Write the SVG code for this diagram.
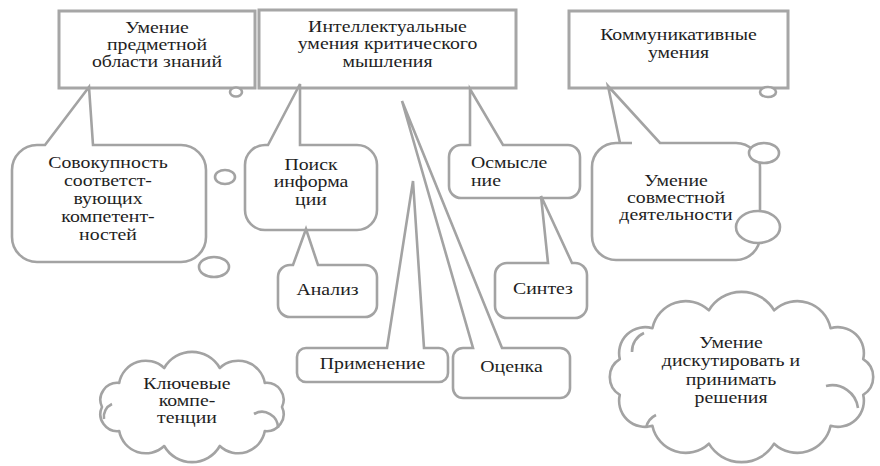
<svg xmlns="http://www.w3.org/2000/svg" width="880" height="466" viewBox="0 0 880 466">
  <style>
    .box { fill: #ffffff; stroke: #a6a6a6; stroke-width: 3; }
    .call { fill: #ffffff; stroke: #a3a3a3; stroke-width: 2.6; stroke-linejoin: miter; }
    .dot { fill: #ffffff; stroke: #a3a3a3; stroke-width: 2.6; }
    .cloud { fill: #ffffff; stroke: #a3a3a3; stroke-width: 2.6; stroke-linejoin: round; }
    .inner { fill: none; stroke: #a3a3a3; stroke-width: 2.6; }
    .t { font-family: "Liberation Serif", "Times New Roman", serif; font-size: 16.5px; fill: #1e1e1e; text-anchor: middle; }
    .tl { text-anchor: start; }
  </style>
  <rect width="880" height="466" fill="#ffffff"/>

  <!-- top-level skill groups -->
  <g id="subject-skills">
    <rect class="box" x="59" y="11" width="196" height="77"/>
    <ellipse class="dot" cx="236" cy="92" rx="6" ry="4.5"/>
    <text class="t" transform="translate(157,33) scale(1.2,1)"><tspan x="0" y="0">Умение</tspan><tspan x="0" y="17">предметной</tspan><tspan x="0" y="34">области знаний</tspan></text>
  </g>

  <g id="critical-thinking">
    <rect class="box" x="259" y="10" width="257" height="78"/>
    <text class="t" transform="translate(387.5,32) scale(1.2,1)"><tspan x="0" y="0">Интеллектуальные</tspan><tspan x="0" y="17.5">умения критического</tspan><tspan x="0" y="35">мышления</tspan></text>
  </g>

  <g id="communication">
    <rect class="box" x="569" y="11" width="219" height="77"/>
    <ellipse class="dot" cx="768" cy="92" rx="8" ry="5"/>
    <text class="t" transform="translate(678.5,40) scale(1.2,1)"><tspan x="0" y="0">Коммуникативные</tspan><tspan x="0" y="18">умения</tspan></text>
  </g>

  <!-- callouts with their tails (tails are the connectors) -->
  <g id="connectors">
    <g id="competences">
      <path class="call" d="M37,145 L45,145 L89,87 L93,145 L181,145 A25 25 0 0 1 206,170 L206,237 A25 25 0 0 1 181,262 L37,262 A25 25 0 0 1 12,237 L12,170 A25 25 0 0 1 37,145 Z"/>
      <ellipse class="dot" cx="225" cy="177" rx="10" ry="7"/>
      <ellipse class="dot" cx="214" cy="267" rx="15" ry="10"/>
      <text class="t" transform="translate(108,168) scale(1.2,1)"><tspan x="0" y="0">Совокупность</tspan><tspan x="0" y="18">соответст-</tspan><tspan x="0" y="36">вующих</tspan><tspan x="0" y="54">компетент-</tspan><tspan x="0" y="72">ностей</tspan></text>
    </g>

    <g id="search">
      <path class="call" d="M265,145 L268,145 L300,84 L300,145 L357,145 A20 20 0 0 1 377,165 L377,210 A20 20 0 0 1 357,230 L265,230 A20 20 0 0 1 245,210 L245,165 A20 20 0 0 1 265,145 Z"/>
      <text class="t" transform="translate(311,170) scale(1.2,1)"><tspan x="0" y="0">Поиск</tspan><tspan x="0" y="17.5">информа</tspan><tspan x="0" y="35">ции</tspan></text>
    </g>

    <g id="analysis">
      <path class="call" d="M290,265 L293,265 L306,229 L318,265 L365,265 A12 12 0 0 1 377,277 L377,305 A12 12 0 0 1 365,317 L290,317 A12 12 0 0 1 278,305 L278,277 A12 12 0 0 1 290,265 Z"/>
      <text class="t" transform="translate(327.5,295) scale(1.2,1)">Анализ</text>
    </g>

    <g id="comprehension">
      <path class="call" d="M461,145 L470,145 L470,89 L503,145 L568,145 A12 12 0 0 1 580,157 L580,186 A12 12 0 0 1 568,198 L461,198 A12 12 0 0 1 449,186 L449,157 A12 12 0 0 1 461,145 Z"/>
      <text class="t tl" transform="translate(471,168) scale(1.2,1)"><tspan x="0" y="0">Осмысле</tspan><tspan x="0" y="18">ние</tspan></text>
    </g>

    <g id="synthesis">
      <path class="call" d="M507,263 L548,263 L541,196 L572,263 L575,263 A12 12 0 0 1 587,275 L587,306 A12 12 0 0 1 575,318 L507,318 A12 12 0 0 1 495,306 L495,275 A12 12 0 0 1 507,263 Z"/>
      <text class="t" transform="translate(543,294) scale(1.2,1)">Синтез</text>
    </g>

    <g id="teamwork">
      <path class="call" d="M616,143 L632,143 L620,143 L608,86 L660,143 L736,143 A24 24 0 0 1 760,167 L760,236 A24 24 0 0 1 736,260 L616,260 A24 24 0 0 1 592,236 L592,167 A24 24 0 0 1 616,143 Z"/>
      <ellipse class="dot" cx="764" cy="153" rx="15" ry="10"/>
      <ellipse class="dot" cx="758" cy="227" rx="22" ry="16"/>
      <text class="t" transform="translate(676,186) scale(1.2,1)"><tspan x="0" y="0">Умение</tspan><tspan x="0" y="17">совместной</tspan><tspan x="0" y="34">деятельности</tspan></text>
    </g>

    <g id="application">
      <path class="call" d="M306,348 L387,348 L413,181 L424,348 L439,348 A9 9 0 0 1 448,357 L448,373 A9 9 0 0 1 439,382 L306,382 A9 9 0 0 1 297,373 L297,357 A9 9 0 0 1 306,348 Z"/>
      <text class="t" transform="translate(372.5,369) scale(1.2,1)">Применение</text>
    </g>

    <g id="evaluation">
      <path class="call" d="M463,348 L473,348 L402,101 L502,348 L560,348 A10 10 0 0 1 570,358 L570,388 A10 10 0 0 1 560,398 L463,398 A10 10 0 0 1 453,388 L453,358 A10 10 0 0 1 463,348 Z"/>
      <text class="t" transform="translate(511.5,372) scale(1.2,1)">Оценка</text>
    </g>
  </g>

  <!-- clouds -->
  <g id="key-competences">
    <path class="cloud" d="M282,407 A17 17 0 0 1 264.8,431.1 A27 27 0 0 1 219.8,446 A32 32 0 0 1 164.2,446 A27 27 0 0 1 119.2,431.1 A17 17 0 0 1 102,407 A17 17 0 0 1 119.2,382.9 A27 27 0 0 1 164.2,368 A32 32 0 0 1 219.8,368 A27 27 0 0 1 264.8,382.9 A17 17 0 0 1 282,407 Z"/>
    <path class="inner" d="M254,414 A16 16 0 0 1 278,428"/>
    <path class="inner" d="M104,419 A14 14 0 0 1 112,404"/>
    <text class="t" transform="translate(187,389) scale(1.2,1)"><tspan x="0" y="0">Ключевые</tspan><tspan x="0" y="17">компе-</tspan><tspan x="0" y="34">тенции</tspan></text>
  </g>

  <g id="discussion">
    <path class="cloud" d="M863.2,394.9 A26 26 0 0 1 830.6,425.8 A34 34 0 0 1 774.1,443.7 A38 38 0 0 1 708.9,443.7 A34 34 0 0 1 652.4,425.8 A26 26 0 0 1 619.8,394.9 A21 21 0 0 1 619.8,359.1 A26 26 0 0 1 652.4,328.2 A34 34 0 0 1 708.9,310.3 A38 38 0 0 1 774.1,310.3 A34 34 0 0 1 830.6,328.2 A26 26 0 0 1 863.2,359.1 A21 21 0 0 1 863.2,394.9 Z"/>
    <path class="inner" d="M826,386 A26 26 0 0 1 858,408"/>
    <path class="inner" d="M632,352 A20 20 0 0 1 644,333"/>
    <path class="inner" d="M646,428 A18 18 0 0 1 656,415"/>
    <text class="t" transform="translate(731,348) scale(1.2,1)"><tspan x="0" y="0">Умение</tspan><tspan x="0" y="18.5">дискутировать и</tspan><tspan x="0" y="37">принимать</tspan><tspan x="0" y="55.5">решения</tspan></text>
  </g>
</svg>
